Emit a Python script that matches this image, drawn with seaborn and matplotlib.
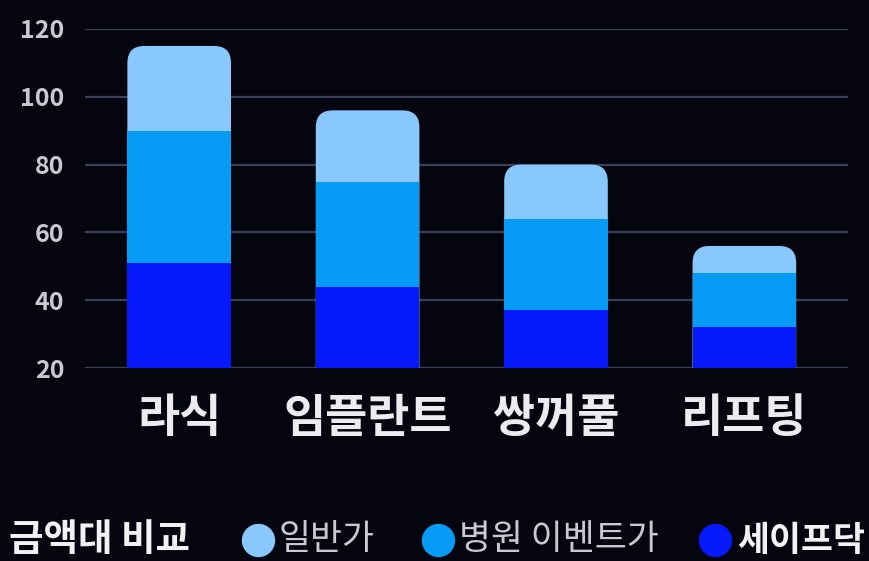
import matplotlib
matplotlib.use('Agg')
import matplotlib.pyplot as plt
import seaborn as sns
import pandas as pd
from matplotlib.patches import FancyBboxPatch
from matplotlib.lines import Line2D

# data
procedures = ['라식', '임플란트', '쌍꺼풀', '리프팅']
regular_price = [115, 96, 80, 56]      # 일반가
event_price = [90, 75, 64, 48]         # 병원 이벤트가
safedoc_price = [51, 44, 37, 32]       # 세이프닥
series_names = ['일반가', '병원 이벤트가', '세이프닥']
yticks = [20, 40, 60, 80, 100, 120]

bg = '#05050f'
colors = ['#88c8fc', '#069cf6', '#0519fb']

sns.set_theme(style='dark')
plt.rcParams['font.family'] = ['Noto Sans CJK KR', 'DejaVu Sans']

df = pd.DataFrame({'시술': procedures, '일반가': regular_price,
                   '병원 이벤트가': event_price, '세이프닥': safedoc_price})

fig = plt.figure(figsize=(8.69, 5.61), dpi=100, facecolor=bg)
ax = fig.add_axes([85/869, 1-368/561, 763/869, 339/561])
ax.set_facecolor(bg)

bar_w = 0.55
for i, (name, c) in enumerate(zip(series_names, colors)):
    sns.barplot(data=df, x='시술', y=name, color=c, width=bar_w,
                saturation=1, linewidth=0, ax=ax, zorder=3 + i)

xlim = (-0.5, 3.55)
ax.set_xlim(*xlim)
ax.set_ylim(20, 120)

# round the top corners of the tallest (back) layer
aspect = (763/(xlim[1]-xlim[0])) / (339/100)
back = list(ax.containers[0])
for p in back:
    fb = FancyBboxPatch((p.get_x(), p.get_y()), p.get_width(), p.get_height(),
                        boxstyle='round,pad=0,rounding_size=0.09',
                        mutation_aspect=aspect, facecolor=p.get_facecolor(),
                        edgecolor='none', linewidth=0, zorder=3)
    p.remove()
    ax.add_patch(fb)

ax.set_yticks(yticks)
ax.yaxis.grid(True, color='#3b3f58', linewidth=1.6, zorder=0)
ax.xaxis.grid(False)
for s in ax.spines.values():
    s.set_visible(False)
ax.tick_params(axis='y', length=0, pad=15, labelsize=18, labelcolor='#c9c9d2')
ax.tick_params(axis='x', length=0, pad=20, labelsize=33, labelcolor='#ececf0')
for t in ax.get_yticklabels() + ax.get_xticklabels():
    t.set_fontweight('bold')
ax.set_xlabel('')
ax.set_ylabel('')

# legend along the bottom
ly = 1 - 540/561
fig.text(190/869, ly, '금액대 비교', ha='right', va='center', fontsize=27,
         fontweight='bold', color='#f2f2f4')
marker_x = [258, 438, 715]
label_x = [279, 459, 737]
weights = ['normal', 'normal', 'bold']
tcols = ['#c9c9d2', '#c9c9d2', '#f2f2f4']
for mx, tx, name, c, fw, tc in zip(marker_x, label_x, series_names, colors, weights, tcols):
    fig.add_artist(Line2D([mx/869], [ly], marker='o', markersize=23,
                          color=c, linestyle='none', transform=fig.transFigure))
    fig.text(tx/869, ly, name, ha='left', va='center', fontsize=25,
             fontweight=fw, color=tc)

fig.savefig('out.png', dpi=100, facecolor=bg)
